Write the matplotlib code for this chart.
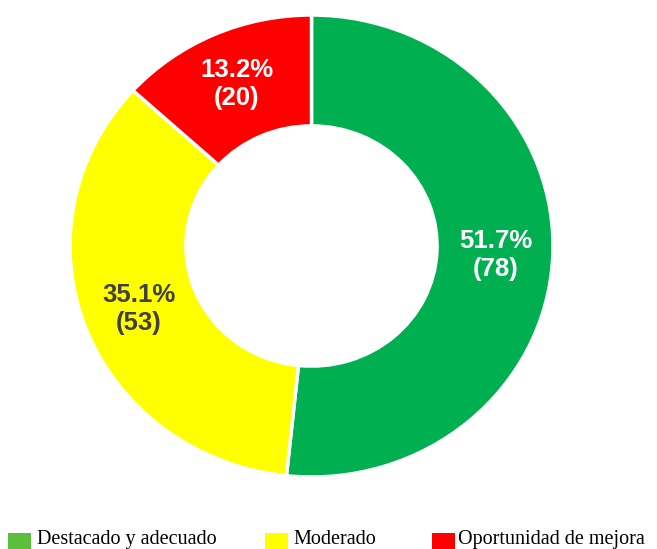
import numpy as np
import matplotlib.pyplot as plt
from matplotlib.patches import Rectangle

categories = ['Destacado y adecuado', 'Moderado', 'Oportunidad de mejora']
counts = [78, 53, 20]
percents = [51.7, 35.1, 13.2]
slice_colors = ['#00B050', '#FFFF00', '#FF0000']
legend_colors = ['#5CBF3C', '#FFFF00', '#FF0000']
text_colors = ['white', '#404040', 'white']

fig = plt.figure(figsize=(6.57, 5.49), dpi=100)
W, H = 657, 549
# pie box in pixels (slightly wider than tall, as in the reference)
ax = fig.add_axes([70 / W, (H - 477) / H, 483 / W, 462 / H])

wedges, _ = ax.pie(counts, colors=slice_colors, startangle=90, counterclock=False,
                   radius=1.0, wedgeprops=dict(width=0.48, edgecolor='white', linewidth=2.5))
ax.set_aspect('auto')
ax.set_xlim(-1, 1)
ax.set_ylim(-1, 1)
ax.axis('off')

# labels in the middle of the ring
total = sum(counts)
ang0 = 90.0
for i, c in enumerate(counts):
    mid = ang0 - 360.0 * (sum(counts[:i]) + c / 2) / total
    r = 0.765
    x = r * np.cos(np.radians(mid))
    y = r * np.sin(np.radians(mid))
    ax.text(x, y, f'{percents[i]}%\n({c})', ha='center', va='center',
            fontsize=18.5, fontweight='bold', color=text_colors[i],
            family='Liberation Sans', linespacing=1.2)

# legend along the bottom edge (hand placed, like the original)
patch_x = [8, 265, 432]
text_x = [37, 293, 458]
for px, tx, col, lab in zip(patch_x, text_x, legend_colors, categories):
    fig.add_artist(Rectangle((px / W, 0), 23 / W, 16 / H, transform=fig.transFigure,
                             facecolor=col, edgecolor='none'))
    fig.text(tx / W, 5 / H, lab, ha='left', va='baseline',
             family='Liberation Serif', fontsize=14.5, color='black')

fig.savefig('out.png', dpi=100)
